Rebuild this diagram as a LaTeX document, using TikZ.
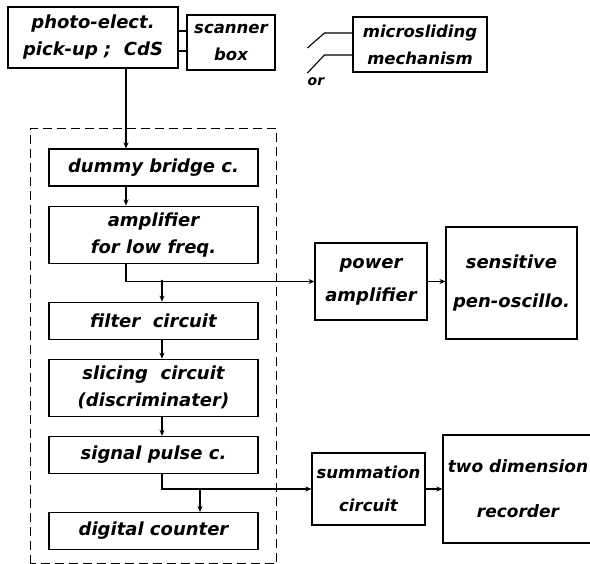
\documentclass[tikz,border=0pt]{standalone}
\usepackage{fontspec}
\setmainfont{DejaVu Sans}[BoldItalicFont={* Bold Oblique}]
\usepackage{tikz}
\usetikzlibrary{positioning,arrows.meta}

\begin{document}
\begin{tikzpicture}[
    x=1pt, y=1pt,
    line width=1.1pt,
    font=\fontsize{18}{27}\selectfont\bfseries\itshape,
    every node/.style={align=center},
    blk/.style={draw, minimum width=209pt, minimum height=37pt, inner sep=1pt},
    tallblk/.style={blk, minimum height=57pt},
    sidebox/.style={draw, inner sep=1pt},
    smalltxt/.style={font=\fontsize{16.5}{27}\selectfont\bfseries\itshape},
    frame/.style={draw, dash pattern=on 9pt off 5pt},
    arr/.style={-{Stealth[length=6pt,width=5pt]}},
]
\useasboundingbox (0,0) rectangle (590,564);

% Pick-up and scanner
\node[sidebox, minimum width=170pt, minimum height=61pt] (pe) at (93,526.5) {photo-elect.\\pick-up ;\ \ CdS};
\node[sidebox, smalltxt, minimum width=88pt, minimum height=55pt] (scanner) at (231,521.5) {scanner\\box};
\node[sidebox, smalltxt, minimum width=134pt, minimum height=55pt] (micro) at (420,519.5) {microsliding\\mechanism};
\node[font=\fontsize{14}{16}\selectfont\bfseries\itshape] (ortext) at (316,482) {or};

% Main chain
\node[blk] (dummy) at (153.5,396.5) {dummy bridge c.};
\node[tallblk, below=19pt of dummy] (amp) {amplifier\\for low freq.};
\node[blk, below=38pt of amp] (filter) {filter\ \ circuit};
\node[tallblk, below=19pt of filter] (slicing) {slicing\ \ circuit\\(discriminater)};
\node[blk, below=19pt of slicing] (signal) {signal pulse c.};
\node[blk, below=38pt of signal] (digital) {digital counter};

% Dashed unit frame
\draw[frame] ([xshift=-18pt,yshift=-14pt]digital.south west) rectangle ([xshift=18pt,yshift=20pt]dummy.north east);

% Output boxes
\node[sidebox, minimum width=112pt, minimum height=77pt] (power) at (371,282.5) {power\\[6pt]amplifier};
\node[sidebox, minimum width=131pt, minimum height=112pt] (sens) at (511.5,281) {sensitive\\[12pt]pen-oscillo.};
\node[sidebox, smalltxt, minimum width=113pt, minimum height=72pt] (summ) at (368.5,75) {summation\\[6pt]circuit};
\node[sidebox, font=\fontsize{17}{27}\selectfont\bfseries\itshape, minimum width=150pt, minimum height=108pt] (rec) at (518,75) {two dimension\\[18pt]recorder};

% Tap points
\coordinate (trunk) at ([xshift=-27.5pt]dummy.north);
\coordinate (fin) at ([xshift=8.5pt]filter.north);
\coordinate (dtap) at ([xshift=46.5pt]digital.north);

% Connectors
\draw ([yshift=6.5pt]pe.east) -- ([yshift=6.5pt]pe.east -| scanner.west);
\draw ([yshift=-13.5pt]pe.east) -- ([yshift=-13.5pt]pe.east -| scanner.west);
\draw ([yshift=11.5pt]micro.west) -- ++(-28,0) -- ++(-17,-15);
\draw ([yshift=-10.5pt]micro.west) -- ++(-28,0) -- ++(-17,-18);

\draw[arr] (trunk |- pe.south) -- (trunk |- dummy.north);
\draw[arr] (trunk |- dummy.south) -- (trunk |- amp.north);
\draw[arr] (trunk |- amp.south) |- (power.west);
\fill (fin |- power.west) circle (1.8pt);
\draw[arr] (fin |- power.west) -- (fin);
\draw[arr] (fin |- filter.south) -- (fin |- slicing.north);
\draw[arr] (fin |- slicing.south) -- (fin |- signal.north);
\draw[arr] (fin |- signal.south) |- (summ.west);
\draw[arr] (dtap |- summ.west) -- (dtap);
\draw[arr] (power.east) -- (power.east -| sens.west);
\draw[arr] (summ.east) -- (rec.west);

\end{tikzpicture}
\end{document}
